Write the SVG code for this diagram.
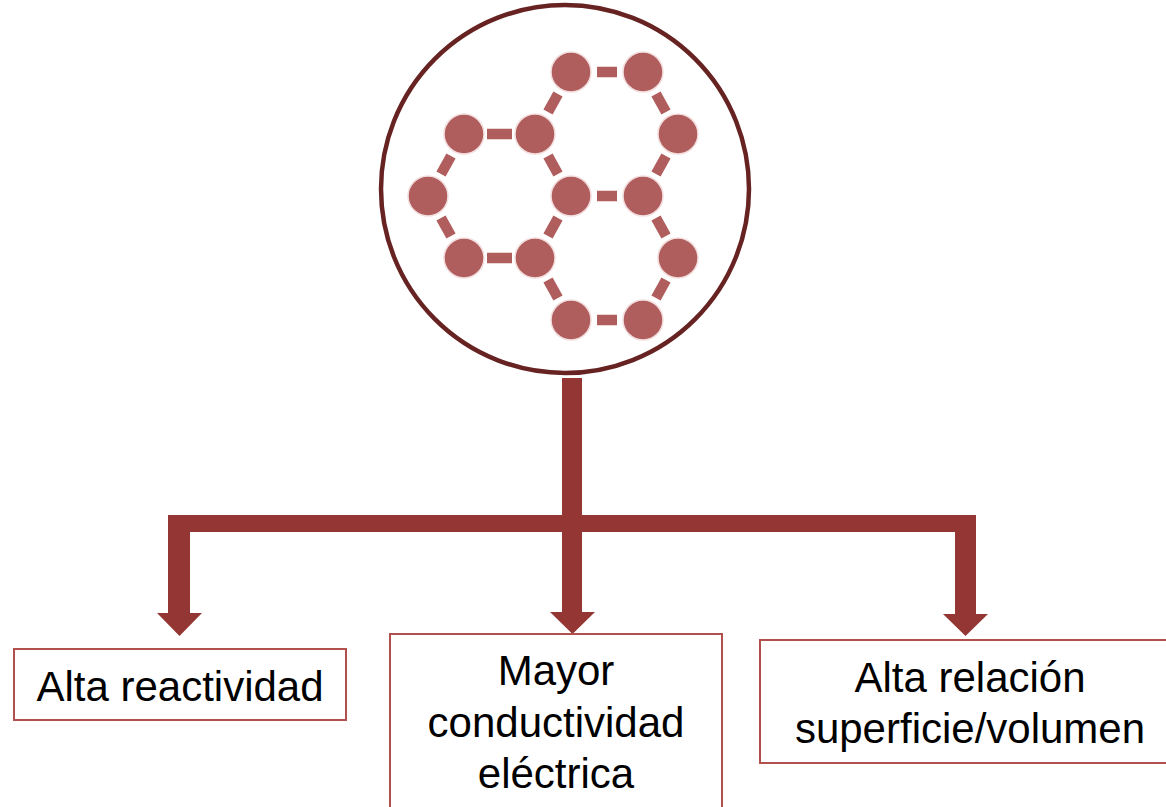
<svg xmlns="http://www.w3.org/2000/svg" width="1166" height="807" viewBox="0 0 1166 807">
<style>
.atom{fill:#b05d5d;stroke:#f3dede;stroke-width:1.5}
.bond{stroke:#b05d5d;stroke-width:10.5;stroke-linecap:butt}
.arrow{fill:#943634}
.box{fill:#ffffff;stroke:#b2504e;stroke-width:2}
.lbl{font-family:"Liberation Sans",Arial,sans-serif;font-size:42px;fill:#000000;text-anchor:middle}
</style>
<rect width="1166" height="807" fill="#ffffff"/>
<g id="graphene">
<circle cx="565" cy="189" r="184" fill="#ffffff" stroke="#662322" stroke-width="4.5"/>
<g id="bonds">
<line class="bond" x1="487" y1="134" x2="512" y2="134"/>
<line class="bond" x1="548" y1="156" x2="558" y2="174"/>
<line class="bond" x1="558" y1="218" x2="548" y2="236"/>
<line class="bond" x1="512" y1="258" x2="487" y2="258"/>
<line class="bond" x1="451" y1="236" x2="441" y2="218"/>
<line class="bond" x1="441" y1="174" x2="451" y2="156"/>
<line class="bond" x1="548" y1="112" x2="558" y2="94"/>
<line class="bond" x1="597" y1="72" x2="617" y2="72"/>
<line class="bond" x1="656" y1="94" x2="666" y2="112"/>
<line class="bond" x1="666" y1="156" x2="656" y2="174"/>
<line class="bond" x1="597" y1="196" x2="617" y2="196"/>
<line class="bond" x1="656" y1="218" x2="666" y2="236"/>
<line class="bond" x1="666" y1="280" x2="656" y2="298"/>
<line class="bond" x1="597" y1="320" x2="617" y2="320"/>
<line class="bond" x1="558" y1="298" x2="548" y2="280"/>
</g>
<g id="atoms">
<circle class="atom" cx="571" cy="72" r="20"/>
<circle class="atom" cx="643" cy="72" r="20"/>
<circle class="atom" cx="464" cy="134" r="20"/>
<circle class="atom" cx="535" cy="134" r="20"/>
<circle class="atom" cx="678" cy="134" r="20"/>
<circle class="atom" cx="428" cy="196" r="20"/>
<circle class="atom" cx="571" cy="196" r="20"/>
<circle class="atom" cx="643" cy="196" r="20"/>
<circle class="atom" cx="464" cy="258" r="20"/>
<circle class="atom" cx="535" cy="258" r="20"/>
<circle class="atom" cx="678" cy="258" r="20"/>
<circle class="atom" cx="571" cy="320" r="20"/>
<circle class="atom" cx="643" cy="320" r="20"/>
</g>
</g>
<g id="connectors">
<path class="arrow" d="M168,515 H976 V614 H955 V532 H190 V613 H168 Z"/>
<polygon class="arrow" points="157,613 202,613 179.5,636"/>
<polygon class="arrow" points="943,614 988,614 965.5,636"/>
<path class="arrow" d="M562,378 H582 V612 H595 L572.5,634 L550,612 H562 Z"/>
</g>
<g id="node-reactividad">
<rect class="box" x="14" y="649" width="332" height="71"/>
<text class="lbl" x="180" y="701">Alta reactividad</text>
</g>
<g id="node-conductividad">
<rect class="box" x="390" y="634" width="332" height="190"/>
<text class="lbl" x="556" y="685">Mayor</text>
<text class="lbl" x="556" y="737">conductividad</text>
<text class="lbl" x="556" y="788">eléctrica</text>
</g>
<g id="node-superficie">
<rect class="box" x="760" y="640" width="430" height="123"/>
<text class="lbl" x="970" y="692">Alta relación</text>
<text class="lbl" x="970" y="743">superficie/volumen</text>
</g>
</svg>
